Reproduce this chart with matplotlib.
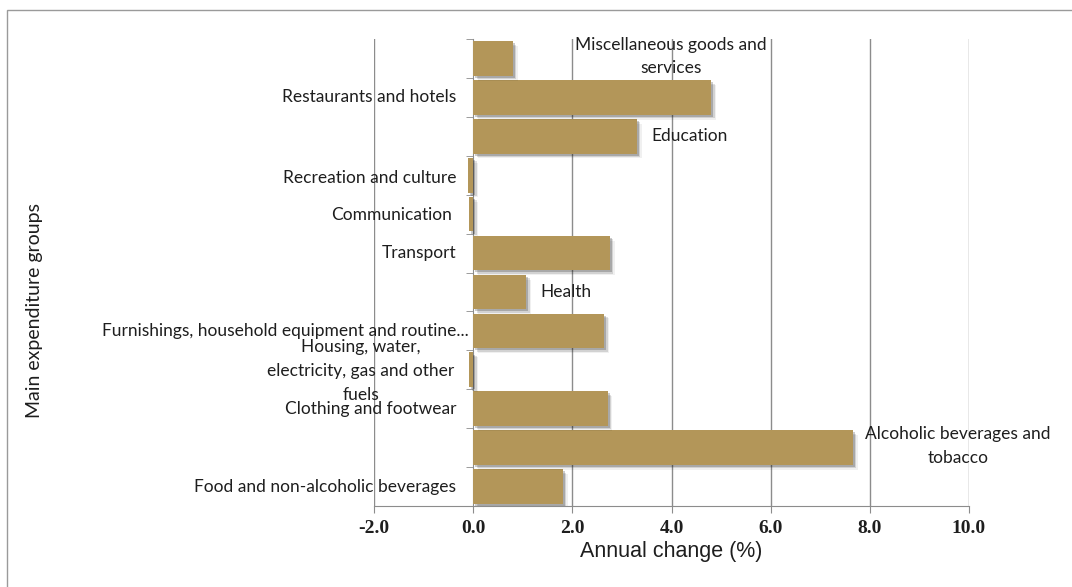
import matplotlib
matplotlib.use("Agg")
import matplotlib.pyplot as plt
import matplotlib.patheffects as pe
from matplotlib.patches import Rectangle
import numpy as np

# ---- data (bottom to top) ----
categories = [
    "Food and non-alcoholic beverages",
    "Alcoholic beverages and\ntobacco",
    "Clothing and footwear",
    "Housing, water,\nelectricity, gas and other\nfuels",
    "Furnishings, household equipment and routine...",
    "Health",
    "Transport",
    "Communication",
    "Recreation and culture",
    "Education",
    "Restaurants and hotels",
    "Miscellaneous goods and\nservices",
]
values = [1.81, 7.66, 2.71, -0.09, 2.64, 1.07, 2.76, -0.08, -0.11, 3.30, 4.80, 0.80]
xticks = [-2.0, 0.0, 2.0, 4.0, 6.0, 8.0, 10.0]

# label placement: (anchor, ha, dx_px, dy_px)
label_style = [
    ("axis", "right", -17, 0),
    ("end", "left", 12, 2),
    ("axis", "right", -17, 0),
    ("axis", "right", -19, -1),
    ("axis", "right", -4, 0),
    ("end", "left", 14, 0),
    ("axis", "right", -17, 0),
    ("axis", "right", -21, -1),
    ("axis", "right", -17, -3),
    ("end", "left", 15, 0),
    ("axis", "right", -17, 0),
    ("end", "left", 62, 2),
]

W, H = 1072, 587
fig = plt.figure(figsize=(W / 100, H / 100), dpi=100)
fig.patch.set_facecolor("white")

# chart border
fig.patches.append(Rectangle((6.5 / W, -0.1), 2.0, 1.1 - 9.5 / H, transform=fig.transFigure,
                             fill=False, edgecolor="#9a9a9a", lw=1.0))

left, right, top, bottom = 374, 969, 39, 506
ax = fig.add_axes([left / W, 1 - bottom / H, (right - left) / W, (bottom - top) / H])

bar_color = "#B39659"
grid_color = "#8c8c8c"
text_color = "#1e1e1e"
label_font = ["Lato", "DejaVu Sans"]

y = np.arange(len(categories))
bars = ax.barh(y, values, height=0.89, color=bar_color, zorder=3)
for b in bars:
    b.set_path_effects([
        pe.SimplePatchShadow(offset=(3.5, -3.5), shadow_rgbFace="#000000", alpha=0.06),
        pe.SimplePatchShadow(offset=(2.5, -2.5), shadow_rgbFace="#000000", alpha=0.12),
        pe.SimplePatchShadow(offset=(1.5, -1.5), shadow_rgbFace="#000000", alpha=0.2),
        pe.Normal()])

ax.set_xlim(-2, 10)
ax.set_ylim(-0.5, len(categories) - 0.5)
ax.set_xticks(xticks)
ax.set_xticklabels([f"{t:.1f}" for t in xticks], fontfamily="Liberation Serif",
                   fontweight="bold", fontsize=14, color=text_color)
for t in xticks:
    if t != 0:
        ax.axvline(t, color=grid_color, lw=1.0, zorder=1)

ax.spines["top"].set_visible(False)
ax.spines["right"].set_visible(False)
ax.spines["left"].set_position(("data", 0))
ax.spines["left"].set_color(grid_color)
ax.spines["bottom"].set_color(grid_color)
ax.spines["left"].set_zorder(2)
ax.tick_params(axis="x", direction="out", length=5, color=grid_color, pad=5)
ax.set_yticks([])
ax.set_yticks(np.arange(-0.5, len(categories), 1.0), minor=True)
ax.tick_params(axis="y", which="minor", direction="out", length=5, color=grid_color)

for i, (cat, val, st) in enumerate(zip(categories, values, label_style)):
    anchor, ha, dx, dy = st
    xa = 0 if anchor == "axis" else val
    ax.annotate(cat, xy=(xa, i), xycoords="data", xytext=(dx, dy), textcoords="offset pixels",
                ha=ha, va="center", multialignment="center", fontsize=12.5,
                family=label_font, color=text_color, linespacing=1.6, zorder=5)

ax.set_xlabel("Annual change (%)", fontfamily="Liberation Sans", fontsize=15.5,
              color=text_color, labelpad=3)
fig.text(35 / W, 1 - 310 / H, "Main expenditure groups", rotation=90, ha="center", va="center",
         fontsize=14, family=label_font, color=text_color)

fig.savefig("out.png", dpi=100, facecolor="white")
